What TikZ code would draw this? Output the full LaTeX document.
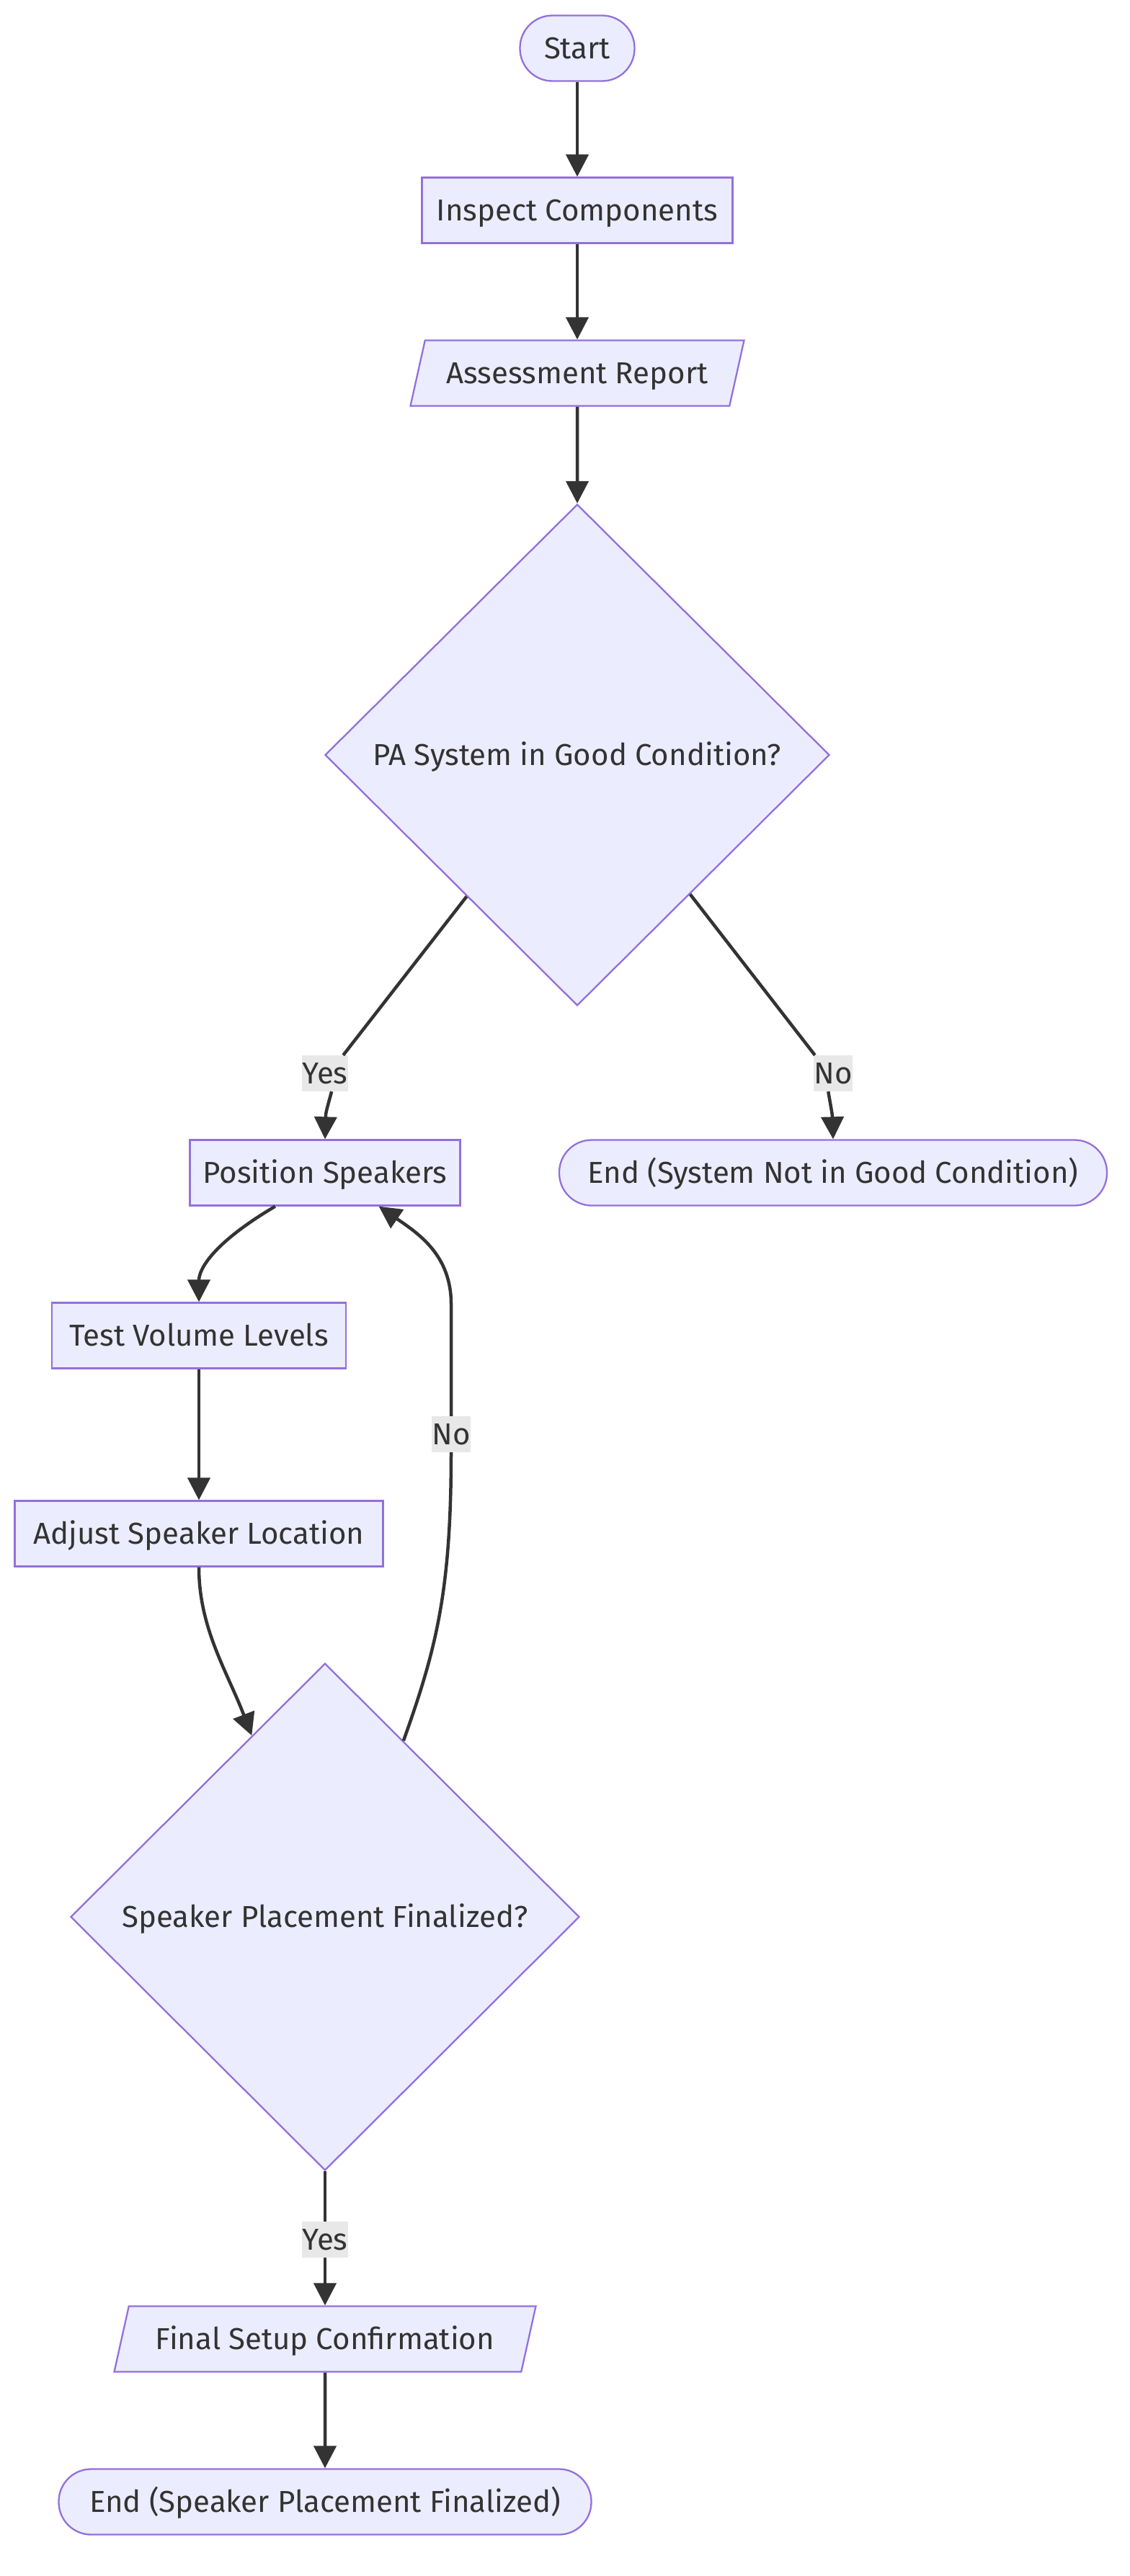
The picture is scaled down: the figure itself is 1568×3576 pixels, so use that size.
\documentclass[tikz,border=0pt]{standalone}
\usepackage{fontspec}
\setmainfont{Fira Sans}
\usetikzlibrary{shapes.geometric,arrows.meta}

\definecolor{boxfill}{HTML}{ECECFF}
\definecolor{boxline}{HTML}{9370DB}
\definecolor{edgeline}{HTML}{333333}
\definecolor{labelfill}{HTML}{E8E8E8}
\newcommand\flowfont{\fontsize{42}{50}\selectfont}

\tikzset{
  base/.style={draw=boxline, fill=boxfill, line width=2.3pt, text=edgeline, font=\flowfont, inner sep=0pt, text height=35pt, text depth=6pt, minimum height=91pt},
  terminal/.style={base, rectangle, rounded corners=45pt},
  process/.style={base, rectangle},
  io/.style={base, trapezium, trapezium left angle=63.7, trapezium right angle=116.3, trapezium stretches body},
  decision/.style={base, diamond},
  elabel/.style={fill=labelfill, text=edgeline, font=\flowfont, inner sep=0pt, text height=35pt, text depth=6pt, minimum height=50pt},
  flow/.style={draw=edgeline, line width=4.5pt},
  arrow/.style={flow, -{Triangle[length=31pt,width=31pt]}}
}

\begin{document}
\begin{tikzpicture}[x=1pt,y=-1pt]
\useasboundingbox (0,0) rectangle (1568,3576);

\node[terminal, minimum width=159pt] (start) at (801,67) {Start};
\node[process, minimum width=431pt] (inspect) at (801,292) {Inspect Components};
\node[io, minimum width=463pt] (report) at (801,518) {Assessment Report};
\node[decision, minimum width=700pt, minimum height=696pt] (good) at (801,1048) {\makebox[0pt]{PA System in Good Condition?}};

\node[process, minimum width=375pt] (position) at (451,1628) {Position Speakers};
\node[terminal, minimum width=760pt] (endbad) at (1156,1628) {End (System Not in Good Condition)};
\node[process, minimum width=408pt] (volume) at (276,1854) {Test Volume Levels};
\node[process, minimum width=511pt] (adjust) at (276,2129) {Adjust Speaker Location};
\node[decision, minimum width=706pt, minimum height=704pt] (final) at (451,2661) {\makebox[0pt]{Speaker Placement Finalized?}};

\node[io, minimum width=585pt] (confirm) at (451,3247) {Final Setup Confirmation};
\node[terminal, minimum width=739pt] (endok) at (451,3473) {End (Speaker Placement Finalized)};

\node[elabel, minimum width=61pt] (yesgood) at (451,1490) {Yes};
\node[elabel, minimum width=51pt] (nogood) at (1156,1490) {No};
\node[elabel, minimum width=50pt] (nofinal) at (626,1991) {No};
\node[elabel, minimum width=60pt] (yesfinal) at (451,3109) {Yes};

\draw[arrow] (start) -- (inspect);
\draw[arrow] (inspect) -- (report);
\draw[arrow] (report) -- (good);

\draw[flow] (good.-128) -- (yesgood.45);
\draw[arrow] (yesgood.-70) .. controls (452,1545) .. (position.north);
\draw[flow] (good.-51) -- (nogood.135);
\draw[arrow] (nogood.-105) .. controls (1155,1548) .. (endbad.north);

\draw[arrow] (position.-146.3) .. controls (295,1726) and (276,1762) .. (volume.north);
\draw[arrow] (volume) -- (adjust);
\draw[arrow] (adjust.south) .. controls (276,2260) and (315,2320) .. (final.112);

\draw[flow] (final.66) .. controls (605,2290) and (626,2210) .. (nofinal.south);
\draw[arrow] (nofinal.north) -- (626,1810) .. controls (626,1742) and (580,1712) .. (position.-32.6);

\draw[flow] (final) -- (yesfinal);
\draw[arrow] (yesfinal) -- (confirm);
\draw[arrow] (confirm) -- (endok);
\end{tikzpicture}
\end{document}
